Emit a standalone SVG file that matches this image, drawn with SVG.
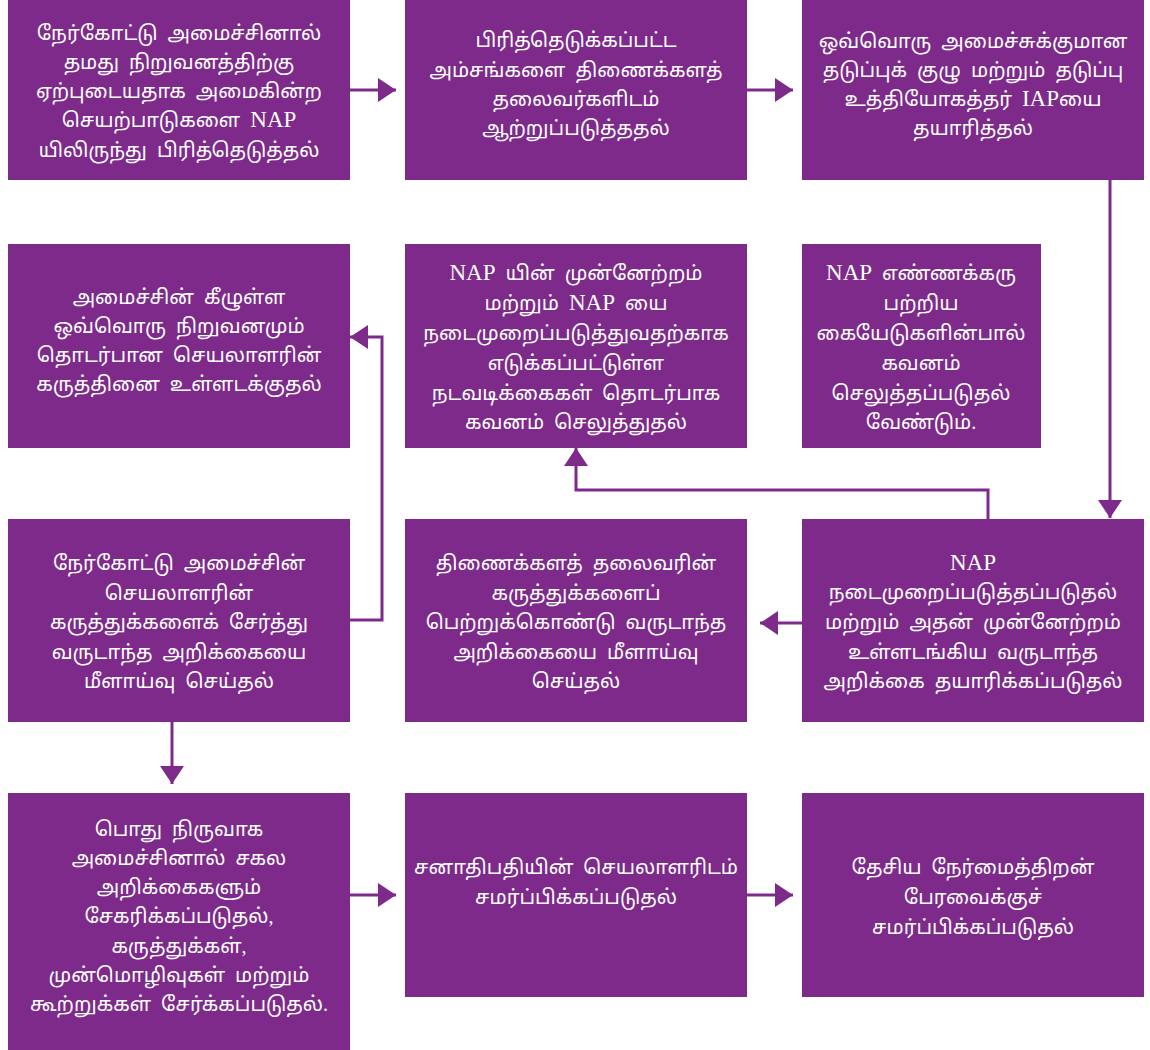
<svg xmlns="http://www.w3.org/2000/svg" width="1150" height="1050" viewBox="0 0 1150 1050">
<style>
.box{fill:#7D2A8B}
.t{fill:#ffffff;font-family:"Liberation Serif","Noto Sans Tamil",serif;font-size:20px;text-anchor:middle;word-spacing:5px}
.l{font-size:23px}
.c{fill:none;stroke:#7D2A8B;stroke-width:3}
</style>
<defs>
<marker id="ah" viewBox="0 0 18 24" refX="18" refY="12" markerWidth="18" markerHeight="24" markerUnits="userSpaceOnUse" orient="auto">
<path d="M0,0 L18,12 L0,24 Z" fill="#7D2A8B"/>
</marker>
</defs>
<rect width="1150" height="1050" fill="#ffffff"/>
<g id="connectors">
<path class="c" d="M350,90 H396" marker-end="url(#ah)"/>
<path class="c" d="M747,90 H793" marker-end="url(#ah)"/>
<path class="c" d="M1110,180 V518" marker-end="url(#ah)"/>
<path class="c" d="M988,519 V490 H576 V448" marker-end="url(#ah)"/>
<path class="c" d="M802,623 H760" marker-end="url(#ah)"/>
<path class="c" d="M350,620 H382 V337 H350" marker-end="url(#ah)"/>
<path class="c" d="M172,722 V784" marker-end="url(#ah)"/>
<path class="c" d="M350,895 H396" marker-end="url(#ah)"/>
<path class="c" d="M747,895 H793" marker-end="url(#ah)"/>
</g>
<g id="n1"><rect class="box" x="8" y="0" width="342" height="180"/>
<text class="t"><tspan x="179" y="40">நேர்கோட்டு அமைச்சினால்</tspan><tspan x="179" y="69">தமது நிறுவனத்திற்கு</tspan><tspan x="179" y="98">ஏற்புடையதாக அமைகின்ற</tspan><tspan x="179" y="127">செயற்பாடுகளை <tspan class="l">NAP</tspan></tspan><tspan x="179" y="157">யிலிருந்து பிரித்தெடுத்தல்</tspan></text></g>
<g id="n2"><rect class="box" x="405" y="0" width="342" height="180"/>
<text class="t"><tspan x="576" y="47">பிரித்தெடுக்கப்பட்ட</tspan><tspan x="576" y="77">அம்சங்களை திணைக்களத்</tspan><tspan x="576" y="106">தலைவர்களிடம்</tspan><tspan x="576" y="135">ஆற்றுப்படுத்ததல்</tspan></text></g>
<g id="n3"><rect class="box" x="802" y="0" width="342" height="180"/>
<text class="t"><tspan x="973" y="48">ஒவ்வொரு அமைச்சுக்குமான</tspan><tspan x="973" y="77">தடுப்புக் குழு மற்றும் தடுப்பு</tspan><tspan x="973" y="106">உத்தியோகத்தர் <tspan class="l">IAP</tspan>யை</tspan><tspan x="973" y="135">தயாரித்தல்</tspan></text></g>
<g id="n4"><rect class="box" x="8" y="244" width="342" height="204"/>
<text class="t"><tspan x="179" y="304">அமைச்சின் கீழுள்ள</tspan><tspan x="179" y="333">ஒவ்வொரு நிறுவனமும்</tspan><tspan x="179" y="362">தொடர்பான செயலாளரின்</tspan><tspan x="179" y="391">கருத்தினை உள்ளடக்குதல்</tspan></text></g>
<g id="n5"><rect class="box" x="405" y="244" width="342" height="204"/>
<text class="t"><tspan x="576" y="280"><tspan class="l">NAP</tspan> யின் முன்னேற்றம்</tspan><tspan x="576" y="310">மற்றும் <tspan class="l">NAP</tspan> யை</tspan><tspan x="576" y="340">நடைமுறைப்படுத்துவதற்காக</tspan><tspan x="576" y="370">எடுக்கப்பட்டுள்ள</tspan><tspan x="576" y="400">நடவடிக்கைகள் தொடர்பாக</tspan><tspan x="576" y="429">கவனம் செலுத்துதல்</tspan></text></g>
<g id="n6"><rect class="box" x="802" y="244" width="239" height="204"/>
<text class="t"><tspan x="921" y="280"><tspan class="l">NAP</tspan> எண்ணக்கரு</tspan><tspan x="921" y="310">பற்றிய</tspan><tspan x="921" y="340">கையேடுகளின்பால்</tspan><tspan x="921" y="370">கவனம்</tspan><tspan x="921" y="400">செலுத்தப்படுதல்</tspan><tspan x="921" y="429">வேண்டும்.</tspan></text></g>
<g id="n7"><rect class="box" x="8" y="519" width="342" height="203"/>
<text class="t"><tspan x="179" y="570">நேர்கோட்டு அமைச்சின்</tspan><tspan x="179" y="600">செயலாளரின்</tspan><tspan x="179" y="629">கருத்துக்களைக் சேர்த்து</tspan><tspan x="179" y="659">வருடாந்த அறிக்கையை</tspan><tspan x="179" y="688">மீளாய்வு செய்தல்</tspan></text></g>
<g id="n8"><rect class="box" x="405" y="519" width="342" height="203"/>
<text class="t"><tspan x="576" y="570">திணைக்களத் தலைவரின்</tspan><tspan x="576" y="600">கருத்துக்களைப்</tspan><tspan x="576" y="629">பெற்றுக்கொண்டு வருடாந்த</tspan><tspan x="576" y="659">அறிக்கையை மீளாய்வு</tspan><tspan x="576" y="688">செய்தல்</tspan></text></g>
<g id="n9"><rect class="box" x="802" y="519" width="342" height="203"/>
<text class="t"><tspan x="973" y="570" class="l">NAP</tspan><tspan x="973" y="599">நடைமுறைப்படுத்தப்படுதல்</tspan><tspan x="973" y="629">மற்றும் அதன் முன்னேற்றம்</tspan><tspan x="973" y="659">உள்ளடங்கிய வருடாந்த</tspan><tspan x="973" y="688">அறிக்கை தயாரிக்கப்படுதல்</tspan></text></g>
<g id="n10"><rect class="box" x="8" y="793" width="342" height="257"/>
<text class="t"><tspan x="179" y="836">பொது நிருவாக</tspan><tspan x="179" y="865">அமைச்சினால் சகல</tspan><tspan x="179" y="894">அறிக்கைகளும்</tspan><tspan x="179" y="923">சேகரிக்கப்படுதல்,</tspan><tspan x="179" y="953">கருத்துக்கள்,</tspan><tspan x="179" y="982">முன்மொழிவுகள் மற்றும்</tspan><tspan x="179" y="1011">கூற்றுக்கள் சேர்க்கப்படுதல்.</tspan></text></g>
<g id="n11"><rect class="box" x="405" y="793" width="342" height="204"/>
<text class="t"><tspan x="576" y="874">சனாதிபதியின் செயலாளரிடம்</tspan><tspan x="576" y="904">சமர்ப்பிக்கப்படுதல்</tspan></text></g>
<g id="n12"><rect class="box" x="802" y="793" width="342" height="204"/>
<text class="t"><tspan x="973" y="874">தேசிய நேர்மைத்திறன்</tspan><tspan x="973" y="904">பேரவைக்குச்</tspan><tspan x="973" y="934">சமர்ப்பிக்கப்படுதல்</tspan></text></g>
</svg>
